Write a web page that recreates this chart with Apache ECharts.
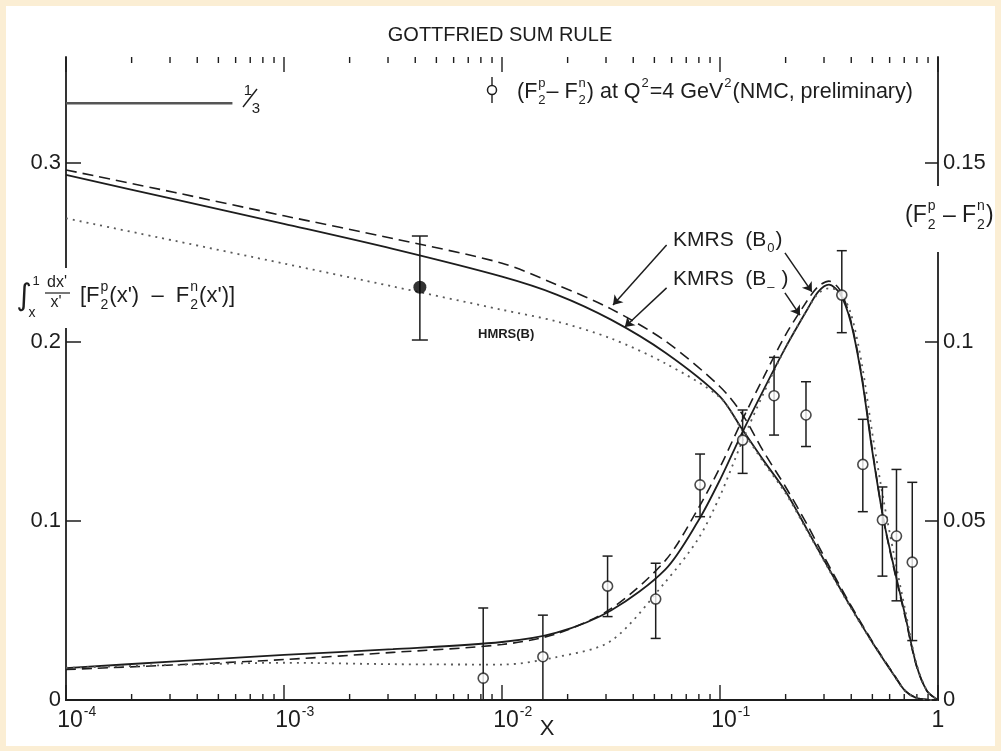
<!DOCTYPE html>
<html>
<head>
<meta charset="utf-8">
<script src="https://cdn.jsdelivr.net/npm/echarts@6/dist/echarts.min.js"></script>
<style>
  html, body { margin: 0; padding: 0; background: #fbeed4; }
  #paper { position: absolute; left: 6px; top: 6px; width: 989px; height: 740px; background: #ffffff; }
  #chart { position: absolute; left: 0; top: 0; width: 1001px; height: 751px; }
</style>
</head>
<body>
<div id="paper"></div>
<div id="chart"></div>
<script>
// ---------------- data ----------------
// Gottfried integral  S_G(x) = ∫_x^1 dx'/x' [F2p - F2n]   (left axis)
const xGrid = [0.0001, 0.000316, 0.001, 0.00316, 0.01, 0.0178, 0.0316, 0.0562, 0.1, 0.126, 0.158,
               0.2, 0.251, 0.316, 0.398, 0.501, 0.631, 0.708, 0.794, 0.891, 1.0];
const gsrKmrsBminus = [0.2933, 0.2797, 0.2660, 0.2520, 0.2365, 0.2265, 0.2125, 0.1940, 0.1695, 0.1515, 0.1340,
                       0.1165, 0.0952, 0.0733, 0.0520, 0.0320, 0.0135, 0.0050, 0.0012, 0.0002, 0];
const gsrKmrsB0 = [0.2961, 0.2835, 0.2705, 0.2578, 0.2440, 0.2320, 0.2185, 0.2005, 0.1750, 0.1600, 0.1390,
                   0.1190, 0.0980, 0.0750, 0.0530, 0.0325, 0.0138, 0.0052, 0.0013, 0.0002, 0];
const gsrHmrsB = [0.2691, 0.2565, 0.2438, 0.2310, 0.2180, 0.2115, 0.2020, 0.1880, 0.1690, 0.1510, 0.1330,
                  0.1155, 0.0945, 0.0728, 0.0515, 0.0318, 0.0133, 0.0049, 0.0012, 0.0002, 0];

// F2p - F2n  (right axis)
const xDiff = [0.0001, 0.000316, 0.001, 0.00316, 0.01, 0.0178, 0.0316, 0.0562, 0.0794, 0.1, 0.126, 0.158, 0.2,
               0.251, 0.282, 0.316, 0.355, 0.398, 0.447, 0.501, 0.562, 0.631, 0.708, 0.794, 0.891, 1.0];
const diffKmrsBminus = [0.0089, 0.0108, 0.0126, 0.0142, 0.0162, 0.0188, 0.0250, 0.0365, 0.0500, 0.0615, 0.0745, 0.0865, 0.0985,
                        0.1090, 0.1140, 0.1160, 0.1135, 0.1055, 0.0900, 0.0690, 0.0505, 0.0365, 0.0235, 0.0100, 0.0025, 0];
const diffKmrsB0 = [0.0085, 0.0098, 0.0113, 0.0133, 0.0155, 0.0185, 0.0255, 0.0390, 0.0535, 0.0650, 0.0780, 0.0900, 0.1020,
                    0.1115, 0.1155, 0.1170, 0.1145, 0.1060, 0.0905, 0.0695, 0.0505, 0.0360, 0.0230, 0.0098, 0.0024, 0];
const diffHmrsB = [0.0090, 0.0098, 0.0104, 0.0100, 0.0099, 0.0120, 0.0165, 0.0330, 0.0450, 0.0570, 0.0720, 0.0855, 0.0985,
                   0.1090, 0.1135, 0.1150, 0.1140, 0.1080, 0.0940, 0.0740, 0.0560, 0.0400, 0.0250, 0.0105, 0.0025, 0];

// NMC preliminary F2p - F2n at Q^2 = 4 GeV^2
const nmcX    = [0.0082, 0.0154, 0.0305, 0.0507, 0.081, 0.127, 0.177, 0.248, 0.362, 0.452, 0.556, 0.645, 0.762];
const nmcY    = [0.0061, 0.0121, 0.0318, 0.0282, 0.0601, 0.0726, 0.0850, 0.0796, 0.1131, 0.0658, 0.0503, 0.0458, 0.0385];
const nmcLow  = [0, 0, 0.0233, 0.0172, 0.0512, 0.0633, 0.0740, 0.0708, 0.1026, 0.0526, 0.0346, 0.0277, 0.0166];
const nmcHigh = [0.0257, 0.0237, 0.0402, 0.0382, 0.0687, 0.0810, 0.0957, 0.0889, 0.1255, 0.0784, 0.0595, 0.0644, 0.0608];

// integral evaluated from the data
const gsrPointX = [0.0042];
const gsrPointY = [0.2306];
const gsrPointLow = [0.2011];
const gsrPointHigh = [0.2592];

// naive quark-model value 1/3
const oneThirdX = [0.0001, 0.00058];
const oneThirdY = [1 / 3, 1 / 3];

// ticks
const decadeTicks = [0.0001, 0.001, 0.01, 0.1, 1];
const decadeBase = ['10', '10', '10', '10', '1'];
const decadeExponent = ['-4', '-3', '-2', '-1', ''];
const minorTicks = [0.0002, 0.0003, 0.0004, 0.0005, 0.0006, 0.0007, 0.0008, 0.0009,
                    0.002, 0.003, 0.004, 0.005, 0.006, 0.007, 0.008, 0.009,
                    0.02, 0.03, 0.04, 0.05, 0.06, 0.07, 0.08, 0.09,
                    0.2, 0.3, 0.4, 0.5, 0.6, 0.7, 0.8, 0.9];
const leftTicks = [0.1, 0.2, 0.3];
const leftLabels = [0, 0.1, 0.2, 0.3];
const rightTicks = [0.05, 0.1, 0.15];
const rightLabels = [0, 0.05, 0.1, 0.15];

// ---------------- styling ----------------
const INK = '#1d1d1d';
const FONT = '"Liberation Sans", "DejaVu Sans", sans-serif';
const NARROW = '"Liberation Sans Narrow", "Liberation Sans", sans-serif';
const LEFT_MAX = 0.3592;
const RIGHT_MAX = LEFT_MAX / 2;
const MAJOR_LEN = 15;
const MINOR_LEN = 6;

const zip = (xs, ys) => xs.map((x, i) => [x, ys[i]]);

function errorBars(capHalf) {
  return function (params, api) {
    const x = api.value(0);
    const lo = api.coord([x, api.value(1)]);
    const hi = api.coord([x, api.value(2)]);
    const st = { stroke: INK, lineWidth: 1.5 };
    return {
      type: 'group',
      children: [
        { type: 'line', shape: { x1: hi[0], y1: hi[1], x2: lo[0], y2: lo[1] }, style: st },
        { type: 'line', shape: { x1: hi[0] - capHalf, y1: hi[1], x2: hi[0] + capHalf, y2: hi[1] }, style: st },
        { type: 'line', shape: { x1: lo[0] - capHalf, y1: lo[1], x2: lo[0] + capHalf, y2: lo[1] }, style: st }
      ]
    };
  };
}

// log-axis tick marks on the bottom and top frame (decades first, then 2..9)
const frameTickValues = decadeTicks.concat(minorTicks);
function frameTicks(params, api) {
  const x = api.value(0);
  const len = params.dataIndex < decadeTicks.length ? MAJOR_LEN : MINOR_LEN;
  const b = api.coord([x, 0]);
  const t = api.coord([x, LEFT_MAX]);
  const st = { stroke: INK, lineWidth: 1.4 };
  return {
    type: 'group',
    children: [
      { type: 'line', shape: { x1: b[0], y1: b[1], x2: b[0], y2: b[1] - len }, style: st },
      { type: 'line', shape: { x1: t[0], y1: t[1], x2: t[0], y2: t[1] + len }, style: st }
    ]
  };
}

const arrowStyle = { color: INK, width: 1.5, type: 'solid' };
function arrow(from, to) {
  return [{ coord: from }, { coord: to }];
}

const xAxisBase = {
  type: 'log', logBase: 10, min: 0.0001, max: 1,
  axisLine: { show: true, lineStyle: { color: INK, width: 1.8 } },
  axisTick: { show: false },
  axisLabel: { show: false },
  splitLine: { show: false },
  minorTick: { show: false }
};

const option = {
  animation: false,
  backgroundColor: 'transparent',
  grid: { left: 66, right: 63, top: 57, bottom: 51, containLabel: false, outerBoundsMode: 'none' },
  xAxis: [
    Object.assign({}, xAxisBase, { position: 'bottom' }),
    Object.assign({}, xAxisBase, { position: 'top' })
  ],
  yAxis: [
    {
      type: 'value', min: 0, max: LEFT_MAX, position: 'left',
      axisLine: { show: true, lineStyle: { color: INK, width: 1.8 } },
      axisTick: { show: true, inside: true, length: 15, customValues: leftTicks, lineStyle: { color: INK, width: 1.5 } },
      axisLabel: {
        show: true, customValues: leftLabels, margin: 5, color: INK, fontSize: 22, fontFamily: NARROW,
        formatter: v => (v === 0 ? '0' : String(+v.toFixed(2)))
      },
      splitLine: { show: false }
    },
    {
      type: 'value', min: 0, max: RIGHT_MAX, position: 'right',
      axisLine: { show: true, lineStyle: { color: INK, width: 1.8 } },
      axisTick: { show: true, inside: true, length: 13, customValues: rightTicks, lineStyle: { color: INK, width: 1.5 } },
      axisLabel: {
        show: true, customValues: rightLabels, margin: 5, color: INK, fontSize: 22, fontFamily: NARROW,
        formatter: v => (v === 0 ? '0' : String(+v.toFixed(2)))
      },
      splitLine: { show: false }
    }
  ],
  series: [
    { // Gottfried integral, KMRS(B-)
      type: 'line', name: 'KMRS(B-) integral', xAxisIndex: 0, yAxisIndex: 0,
      data: zip(xGrid, gsrKmrsBminus), showSymbol: false, smooth: 0.3, z: 3,
      lineStyle: { color: INK, width: 1.8 }
    },
    { // Gottfried integral, KMRS(B0)
      type: 'line', name: 'KMRS(B0) integral', xAxisIndex: 0, yAxisIndex: 0,
      data: zip(xGrid, gsrKmrsB0), showSymbol: false, smooth: 0.3, z: 3,
      lineStyle: { color: INK, width: 1.6, type: [11, 6] },
      markLine: {
        silent: true, symbol: ['none', 'arrow'], symbolSize: 9,
        label: { show: false }, lineStyle: arrowStyle,
        data: [
          arrow([0.0569, 0.2542], [0.0323, 0.2207]),
          arrow([0.0569, 0.2302], [0.0366, 0.2084])
        ]
      }
    },
    { // Gottfried integral, HMRS(B)
      type: 'line', name: 'HMRS(B) integral', xAxisIndex: 0, yAxisIndex: 0,
      data: zip(xGrid, gsrHmrsB), showSymbol: false, smooth: 0.3, z: 3,
      lineStyle: { color: '#5a5a5a', width: 1.8, type: [2, 5] }
    },
    { // F2p - F2n, KMRS(B-)
      type: 'line', name: 'KMRS(B-)', xAxisIndex: 0, yAxisIndex: 1,
      data: zip(xDiff, diffKmrsBminus), showSymbol: false, smooth: 0.3, z: 3,
      lineStyle: { color: INK, width: 1.8 }
    },
    { // F2p - F2n, KMRS(B0)
      type: 'line', name: 'KMRS(B0)', xAxisIndex: 0, yAxisIndex: 1,
      data: zip(xDiff, diffKmrsB0), showSymbol: false, smooth: 0.3, z: 3,
      lineStyle: { color: INK, width: 1.6, type: [10, 6] },
      markLine: {
        silent: true, symbol: ['none', 'arrow'], symbolSize: 9,
        label: { show: false }, lineStyle: arrowStyle,
        data: [
          arrow([0.1986, 0.1249], [0.264, 0.1140]),
          arrow([0.1986, 0.1137], [0.2328, 0.1075])
        ]
      }
    },
    { // F2p - F2n, HMRS(B)
      type: 'line', name: 'HMRS(B)', xAxisIndex: 0, yAxisIndex: 1,
      data: zip(xDiff, diffHmrsB), showSymbol: false, smooth: 0.3, z: 3,
      lineStyle: { color: '#5a5a5a', width: 1.8, type: [2, 5] }
    },
    { // 1/3 reference level
      type: 'line', name: '1/3', xAxisIndex: 0, yAxisIndex: 0,
      data: zip(oneThirdX, oneThirdY), showSymbol: false, z: 3,
      lineStyle: { color: '#555555', width: 2.6 }
    },
    { // NMC error bars
      type: 'custom', name: 'NMC errors', xAxisIndex: 0, yAxisIndex: 1, z: 4,
      data: nmcX.map((x, i) => [x, nmcLow[i], nmcHigh[i]]),
      encode: { x: 0, y: [1, 2] }, renderItem: errorBars(5), silent: true
    },
    { // NMC points
      type: 'scatter', name: 'NMC', xAxisIndex: 0, yAxisIndex: 1, z: 5,
      data: zip(nmcX, nmcY), symbol: 'circle', symbolSize: 10,
      itemStyle: { color: '#ffffff', borderColor: INK, borderWidth: 1.6 }
    },
    { // integral from data: error bar
      type: 'custom', name: 'integral errors', xAxisIndex: 0, yAxisIndex: 0, z: 4,
      data: gsrPointX.map((x, i) => [x, gsrPointLow[i], gsrPointHigh[i]]),
      encode: { x: 0, y: [1, 2] }, renderItem: errorBars(8), silent: true
    },
    { // integral from data: point
      type: 'scatter', name: 'integral', xAxisIndex: 0, yAxisIndex: 0, z: 5,
      data: zip(gsrPointX, gsrPointY), symbol: 'circle', symbolSize: 13,
      itemStyle: { color: '#000000' }
    },
    { // decade and sub-decade ticks on bottom and top frame
      type: 'custom', name: 'frame ticks', xAxisIndex: 0, yAxisIndex: 0, z: 2,
      data: frameTickValues.map(v => [v, 0]),
      encode: { x: 0, y: 1 }, renderItem: frameTicks, silent: true
    }
  ]
};

const chart = echarts.init(document.getElementById('chart'), null, { renderer: 'canvas' });
chart.setOption(option);

// ---------------- annotations ----------------
const measureCtx = document.createElement('canvas').getContext('2d');
function textWidth(s, size, fam) {
  measureCtx.font = size + 'px ' + fam;
  return measureCtx.measureText(s).width;
}
function txt(s, x, y, size, fam, align, weight) {
  return {
    type: 'text', z: 101,
    style: {
      text: s, x: x, y: y, fill: INK,
      font: (weight ? weight + ' ' : '') + size + 'px ' + fam,
      align: align || 'left', verticalAlign: 'middle'
    }
  };
}
// lays out text with stacked super/subscripts, e.g. F with 2 below and p above
function formula(parts, x0, y, size, fam) {
  const els = [];
  const small = Math.round(size * 0.62);
  let x = x0;
  parts.forEach(p => {
    if (typeof p === 'string') {
      els.push(txt(p, x, y, size, fam));
      x += textWidth(p, size, fam);
    } else {
      let w = 0;
      if (p.sup) { els.push(txt(p.sup, x + 1, y - size * 0.42, small, fam)); w = Math.max(w, textWidth(p.sup, small, fam)); }
      if (p.sub) { els.push(txt(p.sub, x + 1, y + size * 0.40, small, fam)); w = Math.max(w, textWidth(p.sub, small, fam)); }
      x += w + 2;
    }
  });
  return els;
}
function line(x1, y1, x2, y2, w) {
  return { type: 'line', z: 101, shape: { x1, y1, x2, y2 }, style: { stroke: INK, lineWidth: w || 1.5 } };
}
function whiteBox(x, y, w, h) {
  return { type: 'rect', z: 100, shape: { x, y, width: w, height: h }, style: { fill: '#ffffff' } };
}

const g = [];
// title
g.push(txt('GOTTFRIED SUM RULE', 500, 35, 20, FONT, 'center'));

// legend entry for the NMC data
g.push(line(492, 77, 492, 103, 1.4));
g.push({ type: 'circle', z: 102, shape: { cx: 492, cy: 90, r: 4.5 }, style: { fill: '#fff', stroke: INK, lineWidth: 1.5 } });
g.push(...formula(['(F', { sup: 'p', sub: '2' }, '– F', { sup: 'n', sub: '2' }, ') at Q', { sup: '2' }, '=4 GeV',
                   { sup: '2' }, '(NMC, preliminary)'], 517, 92, 21.5, FONT));

// 1/3 label
g.push(txt('1', 248, 91, 15, FONT, 'center'));
g.push(line(243, 107, 257, 89, 1.4));
g.push(txt('3', 256, 109, 15, FONT, 'center'));

// curve labels
g.push(...formula(['KMRS  (B', { sub: '0' }, ')'], 673, 240, 21, FONT));
g.push(...formula(['KMRS  (B', { sub: '–' }, ' )'], 673, 279, 21, FONT));
g.push(txt('HMRS(B)', 478, 334, 13, FONT, 'left', 'bold'));

// left axis title: ∫_x^1 dx'/x' [F2p(x') - F2n(x')]
g.push(whiteBox(58, 268, 16, 60));
g.push(txt('∫', 24, 297, 30, '"DejaVu Sans", sans-serif', 'center'));
g.push(txt('1', 36, 281, 13, FONT, 'center'));
g.push(txt('x', 32, 313, 14, FONT, 'center'));
g.push(txt("dx'", 57, 283, 16, FONT, 'center'));
g.push(line(45, 293, 70, 293, 1.2));
g.push(txt("x'", 56, 303, 16, FONT, 'center'));
g.push(...formula(['[F', { sup: 'p', sub: '2' }, "(x')  –  F", { sup: 'n', sub: '2' }, "(x')]"], 80, 296, 22, FONT));

// right axis title: (F2p - F2n)
g.push(whiteBox(929, 186, 17, 66));
g.push(...formula(['(F', { sup: 'p', sub: '2' }, ' – F', { sup: 'n', sub: '2' }, ')'], 905, 216, 23, FONT));

// x-axis tick labels 10^n placed through the axis scale
decadeTicks.forEach((v, i) => {
  const px = chart.convertToPixel({ xAxisIndex: 0 }, v);
  const baseW = textWidth(decadeBase[i], 23, NARROW);
  const cx = px + (decadeExponent[i] ? 4 : 0);
  g.push(txt(decadeBase[i], cx, 721, 23, NARROW, 'center'));
  if (decadeExponent[i]) {
    g.push(txt(decadeExponent[i], cx + baseW / 2 + 1, 712, 14, NARROW, 'left'));
  }
});
g.push(txt('X', 547, 729, 22, NARROW, 'center'));

chart.setOption({ graphic: { elements: g } });
</script>
</body>
</html>
